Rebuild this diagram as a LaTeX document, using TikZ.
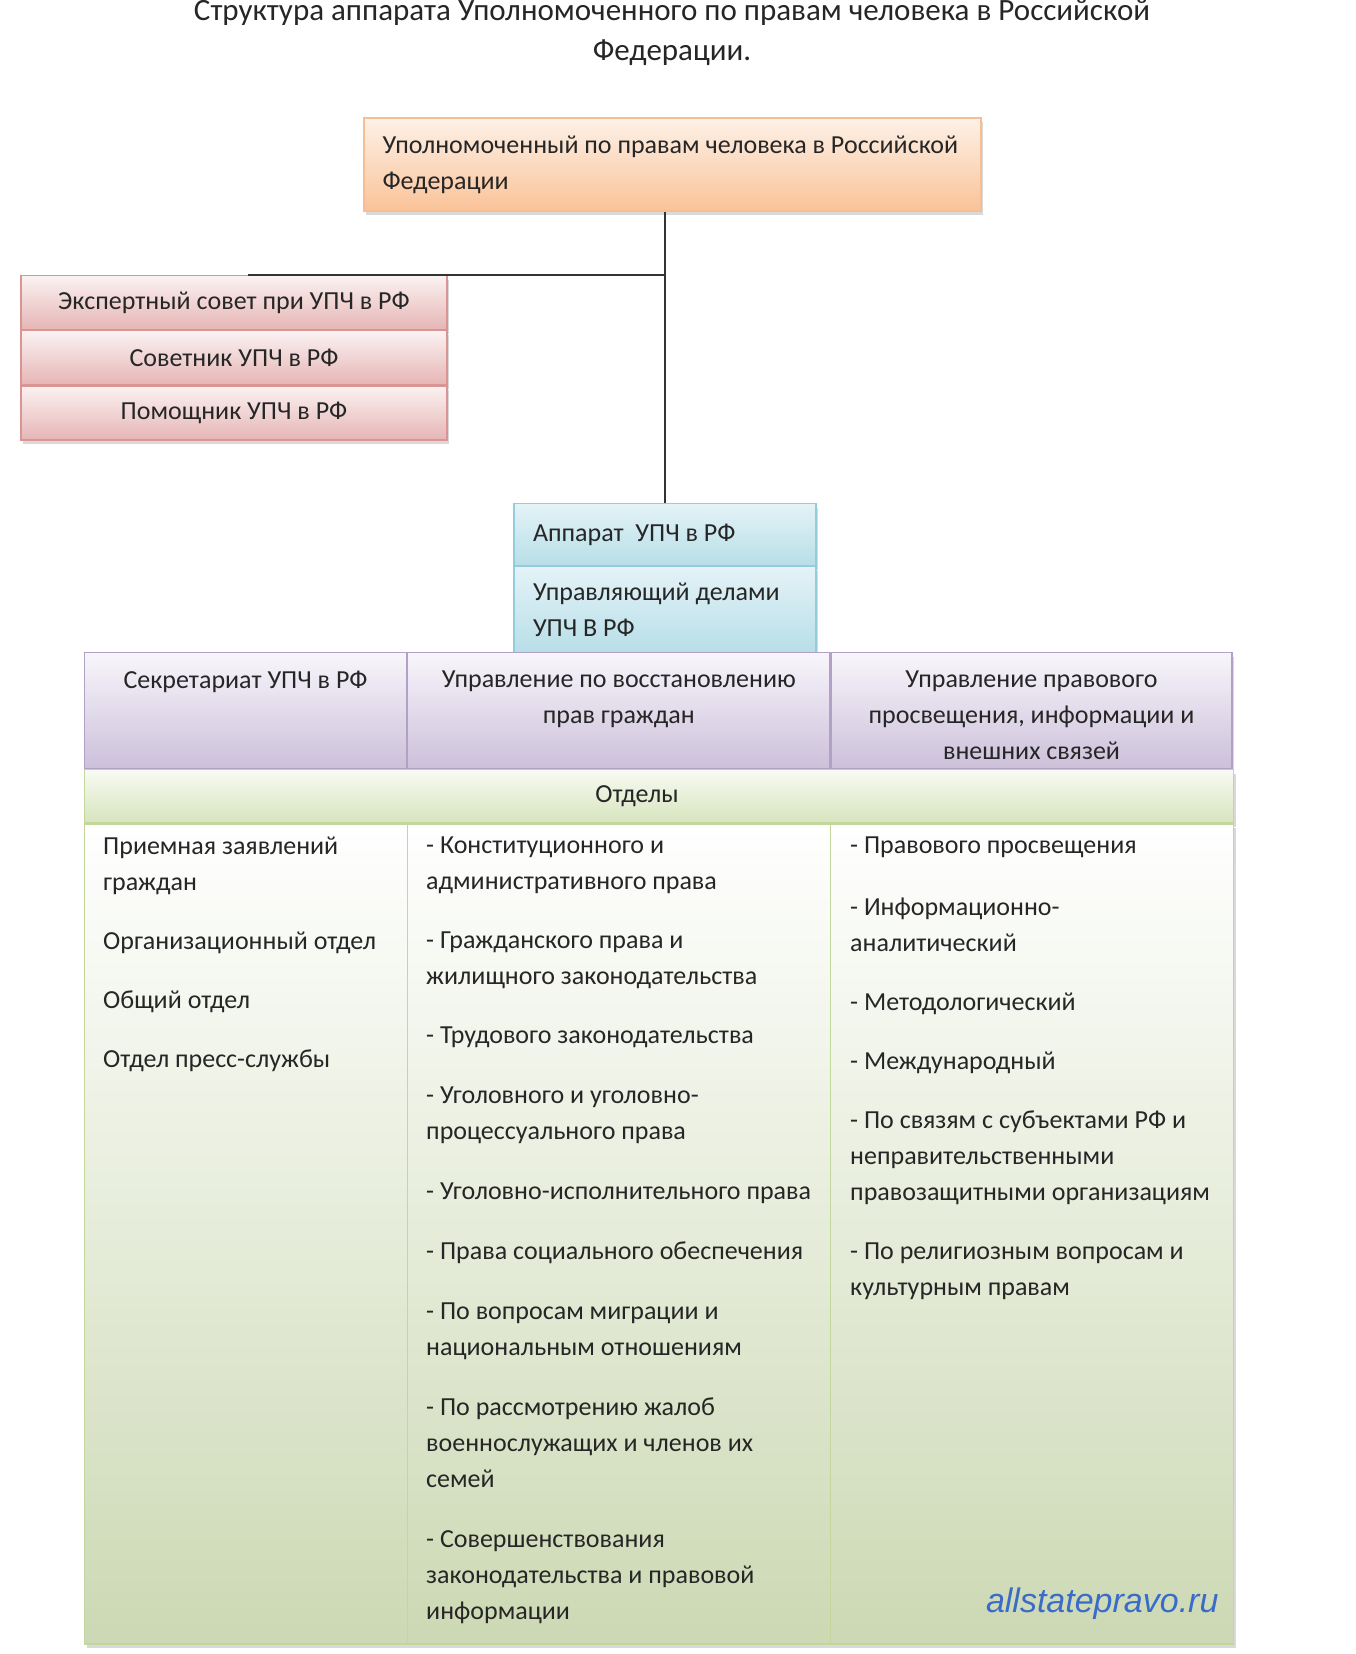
\documentclass[tikz,border=0pt]{standalone}
\usepackage{fontspec}
\setmainfont{Carlito}
\newfontfamily\sitefont{Liberation Sans}
\usepackage{xcolor}
\usetikzlibrary{positioning, shadows, calc}
\definecolor{txt}{HTML}{262626}
\definecolor{orangeline}{HTML}{F7BE94}
\definecolor{orangetop}{HTML}{FDF1E7}
\definecolor{orangebot}{HTML}{FAC398}
\definecolor{pinkline}{HTML}{D99594}
\definecolor{pinktop}{HTML}{FBF2F2}
\definecolor{pinkbot}{HTML}{E6B5B5}
\definecolor{blueline}{HTML}{93CDDD}
\definecolor{bluetop}{HTML}{E4F3F7}
\definecolor{bluebot}{HTML}{B7DEE8}
\definecolor{purpleline}{HTML}{B2A1C7}
\definecolor{purpletop}{HTML}{F8F6FB}
\definecolor{purplebot}{HTML}{CCC0DA}
\definecolor{greenline}{HTML}{C3D69B}
\definecolor{greentop}{HTML}{F8FBF2}
\definecolor{greenbot}{HTML}{D7E4BD}
\definecolor{siteblue}{HTML}{3A6BC8}
\newcommand{\headtext}[2]{\parbox[c][80pt][t]{#1}{\centering #2}}
\tikzset{
  box/.style={draw, line width=1.2pt, inner sep=0pt, text=txt, font=\fontsize{26}{36}\selectfont,
    drop shadow={shadow xshift=2pt, shadow yshift=-4pt, opacity=0.3}},
  chief/.style={box, draw=orangeline, top color=orangetop, bottom color=orangebot,
    minimum width=617pt, minimum height=93pt, align=flush left, text width=580pt},
  advbox/.style={box, draw=pinkline, top color=pinktop, bottom color=pinkbot,
    minimum width=426pt, minimum height=54pt},
  aprow/.style={box, draw=blueline, top color=bluetop, bottom color=bluebot,
    minimum width=302pt, align=flush left, text width=264pt},
  headcell/.style={box, draw=purpleline, top color=purpletop, bottom color=purplebot,
    minimum height=116pt, inner ysep=18pt, drop shadow={opacity=0}},
  deptrow/.style={box, draw=greenline, top color=greentop, bottom color=greenbot,
    minimum width=1149pt, minimum height=53pt, drop shadow={opacity=0}},
  bodybox/.style={box, draw=greenline, top color=white, bottom color=greenbot!95!black,
    minimum width=1149pt, minimum height=820pt},
  sepline/.style={draw=greenline, line width=1.2pt},
  listtext/.style={anchor=north west, inner sep=0pt, align=left, text=txt, font=\fontsize{26}{36}\selectfont},
  conn/.style={draw=black!80, line width=2pt},
  title/.style={align=center, text=txt, font=\fontsize{31}{40}\selectfont},
  site/.style={text=siteblue, font=\sitefont\itshape\fontsize{34}{40}\selectfont}
}
\begin{document}
\begin{tikzpicture}[x=1pt, y=-1pt]
  \useasboundingbox (0,0) rectangle (1356,1654);

  \node[title] (ttl) at (672,33) {Структура аппарата Уполномоченного по правам человека в Российской\\Федерации.};

  % head of the structure
  \node[chief] (upch) at (672.5,164.5) {Уполномоченный по правам человека в Российской\\Федерации};

  % advisory boxes
  \node[advbox, anchor=north] (exp) at (234,275) {Экспертный совет при УПЧ в РФ};
  \node[advbox, below=0pt of exp] (sov) {Советник УПЧ в РФ};
  \node[advbox, below=0pt of sov] (pom) {Помощник УПЧ в РФ};

  % apparatus
  \node[aprow, anchor=north, minimum height=62pt] (app) at (665,503) {Аппарат~ УПЧ в РФ\\[-6pt]};
  \node[aprow, below=0pt of app, minimum height=86pt] (upr) {Управляющий делами\\УПЧ В РФ};

  % table of departments
  \node[headcell, minimum width=322pt, anchor=north west] (sec) at (84,652) {\headtext{300pt}{Секретариат УПЧ в РФ}};
  \node[headcell, minimum width=422pt, right=0pt of sec] (uvp) {\headtext{400pt}{Управление по восстановлению\\прав граждан}};
  \node[headcell, minimum width=401pt, right=0pt of uvp] (upp) {\headtext{390pt}{Управление правового\\просвещения, информации и\\внешних связей}};
  \node[deptrow, anchor=north west] (otd) at (sec.south west) {\hspace*{-44pt}Отделы};
  \node[bodybox, anchor=north west] (body) at (otd.south west) {};
  \draw[sepline] (body.north -| sec.east) -- (body.south -| sec.east);
  \draw[sepline] (body.north -| uvp.east) -- (body.south -| uvp.east);

  \node[listtext] (col1) at (103,837) {Приемная заявлений\\граждан\\[23pt]
    Организационный отдел\\[23pt]
    Общий отдел\\[23pt]
    Отдел пресс-службы};
  \node[listtext] (col2) at (426,837) {- Конституционного и\\административного права\\[23pt]
    - Гражданского права и\\жилищного законодательства\\[23pt]
    - Трудового законодательства\\[24pt]
    - Уголовного и уголовно-\\процессуального права\\[24pt]
    - Уголовно-исполнительного права\\[24pt]
    - Права социального обеспечения\\[24pt]
    - По вопросам миграции и\\национальным отношениям\\[24pt]
    - По рассмотрению жалоб\\военнослужащих и членов их\\семей\\[24pt]
    - Совершенствования\\законодательства и правовой\\информации};
  \node[listtext] (col3) at (850,837) {- Правового просвещения\\[26pt]
    - Информационно-\\аналитический\\[23pt]
    - Методологический\\[23pt]
    - Международный\\[23pt]
    - По связям с субъектами РФ и\\неправительственными\\правозащитными организациям\\[23pt]
    - По религиозным вопросам и\\культурным правам};

  \node[site, anchor=east] (site) at (1222,1604) {allstatepravo.ru};

  % connectors
  \draw[conn] (app.north) -- (app.north |- upch.south);
  \draw[conn] (app.north |- exp.north) -- ([xshift=14pt]exp.north);
\end{tikzpicture}
\end{document}
